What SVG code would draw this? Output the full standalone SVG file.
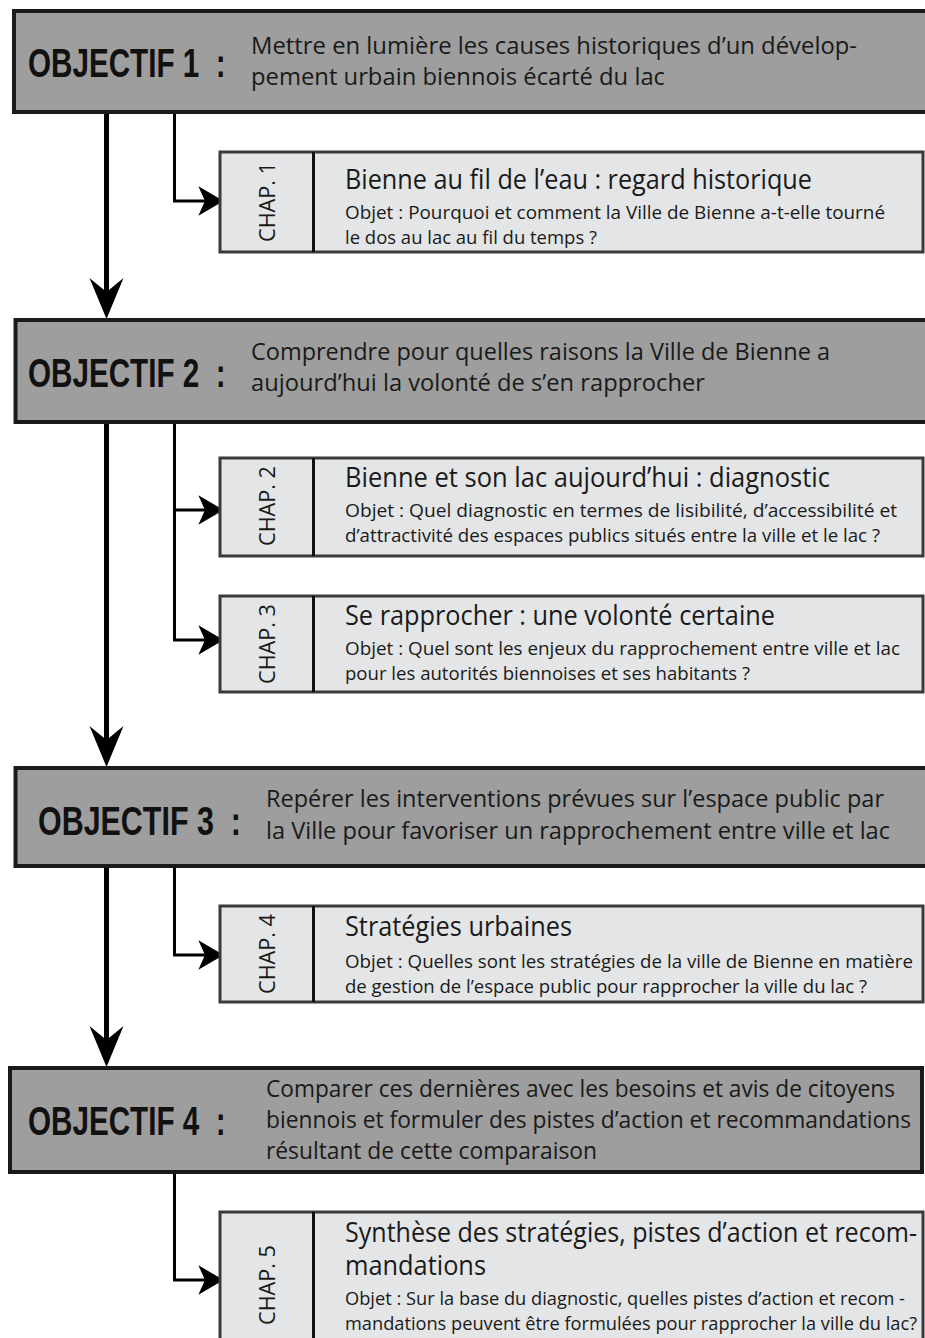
<svg xmlns="http://www.w3.org/2000/svg" width="925" height="1338" viewBox="0 0 925 1338">
<style>
.obj{fill:#9d9e9d;stroke:#1a1a1a;stroke-width:4}
.chap{fill:#e3e5e6;stroke:#3a3a3a;stroke-width:3}
.div{stroke:#111;stroke-width:3}
.lab{font-family:"Liberation Sans",Arial,sans-serif;font-weight:bold;font-size:40px;fill:#111}
.desc{font-family:"Open Sans","Noto Sans",sans-serif;font-size:24px;fill:#1a1a1a}
.ct{font-family:"Open Sans","Noto Sans",sans-serif;font-size:27px;fill:#1a1a1a}
.co{font-family:"Open Sans","Noto Sans",sans-serif;font-size:17.5px;fill:#1a1a1a}
.cn{font-family:"Open Sans","Noto Sans",sans-serif;font-size:22px;fill:#1a1a1a}
.main{stroke:#000;stroke-width:5;fill:none}
.br{stroke:#000;stroke-width:3;fill:none}
</style>
<defs>
<marker id="big" markerUnits="userSpaceOnUse" markerWidth="60" markerHeight="60" viewBox="-20 -20 60 40" refX="0" refY="0" orient="auto" overflow="visible">
<path d="M27,0 L-14,-17 L0,0 L-14,17 Z" fill="#000"/>
</marker>
<marker id="small" markerUnits="userSpaceOnUse" markerWidth="40" markerHeight="40" viewBox="-10 -15 30 30" refX="0" refY="0" orient="auto" overflow="visible">
<path d="M14,0 L-5,-11 L0,0 L-5,11 Z" fill="#000"/>
</marker>
</defs>

<g id="connectors">
<line class="main" x1="106.5" y1="112" x2="106.5" y2="292" marker-end="url(#big)"/>
<line class="main" x1="106.5" y1="422" x2="106.5" y2="740" marker-end="url(#big)"/>
<line class="main" x1="106.5" y1="866" x2="106.5" y2="1040" marker-end="url(#big)"/>
<polyline class="br" points="174.5,112 174.5,201 205,201" marker-end="url(#small)"/>
<polyline class="br" points="174.5,422 174.5,640 205,640" marker-end="url(#small)"/>
<line class="br" x1="174.5" y1="510" x2="205" y2="510" marker-end="url(#small)"/>
<polyline class="br" points="174.5,866 174.5,955 205,955" marker-end="url(#small)"/>
<polyline class="br" points="174.5,1172 174.5,1280 205,1280" marker-end="url(#small)"/>
</g>

<g id="objectif1">
<rect class="obj" x="14" y="11" width="930" height="101"/>
<text class="lab" transform="translate(28,77) scale(0.74,1)" textLength="267" lengthAdjust="spacingAndGlyphs">OBJECTIF 1&#160;&#160;:</text>
<text class="desc" x="251" y="54" textLength="606" lengthAdjust="spacingAndGlyphs">Mettre en lumière les causes historiques d’un dévelop-</text>
<text class="desc" x="251" y="85" textLength="414" lengthAdjust="spacingAndGlyphs">pement urbain biennois écarté du lac</text>
</g>

<g id="chap1">
<rect class="chap" x="220" y="152" width="703" height="100"/>
<line class="div" x1="313.5" y1="152" x2="313.5" y2="252"/>
<text class="cn" transform="translate(275,242) rotate(-90)" textLength="80" lengthAdjust="spacingAndGlyphs">CHAP. 1</text>
<text class="ct" x="345" y="189" textLength="467" lengthAdjust="spacingAndGlyphs">Bienne au fil de l’eau : regard historique</text>
<text class="co" x="345" y="219" textLength="540" lengthAdjust="spacingAndGlyphs">Objet :  Pourquoi et comment la Ville de Bienne a-t-elle tourné</text>
<text class="co" x="345" y="244" textLength="252" lengthAdjust="spacingAndGlyphs">le dos au lac au fil du temps ?</text>
</g>

<g id="objectif2">
<rect class="obj" x="15.5" y="320" width="930" height="102"/>
<text class="lab" transform="translate(28,387) scale(0.74,1)" textLength="267" lengthAdjust="spacingAndGlyphs">OBJECTIF 2&#160;&#160;:</text>
<text class="desc" x="251" y="360" textLength="579" lengthAdjust="spacingAndGlyphs">Comprendre pour quelles raisons la Ville de Bienne a</text>
<text class="desc" x="251" y="391" textLength="454" lengthAdjust="spacingAndGlyphs">aujourd’hui la volonté de s’en rapprocher</text>
</g>

<g id="chap2">
<rect class="chap" x="220" y="458" width="703" height="98"/>
<line class="div" x1="313.5" y1="458" x2="313.5" y2="556"/>
<text class="cn" transform="translate(275,546) rotate(-90)" textLength="80" lengthAdjust="spacingAndGlyphs">CHAP. 2</text>
<text class="ct" x="345" y="487" textLength="485" lengthAdjust="spacingAndGlyphs">Bienne et son lac aujourd’hui : diagnostic</text>
<text class="co" x="345" y="517" textLength="552" lengthAdjust="spacingAndGlyphs">Objet :  Quel diagnostic en termes de lisibilité,  d’accessibilité et</text>
<text class="co" x="345" y="542" textLength="535" lengthAdjust="spacingAndGlyphs">d’attractivité des espaces publics situés entre la ville et le lac ?</text>
</g>

<g id="chap3">
<rect class="chap" x="220" y="596" width="703" height="96"/>
<line class="div" x1="313.5" y1="596" x2="313.5" y2="692"/>
<text class="cn" transform="translate(275,684) rotate(-90)" textLength="80" lengthAdjust="spacingAndGlyphs">CHAP. 3</text>
<text class="ct" x="345" y="625" textLength="430" lengthAdjust="spacingAndGlyphs">Se rapprocher : une volonté certaine</text>
<text class="co" x="345" y="655" textLength="555" lengthAdjust="spacingAndGlyphs">Objet :  Quel sont les enjeux du rapprochement entre ville et lac</text>
<text class="co" x="345" y="680" textLength="405" lengthAdjust="spacingAndGlyphs">pour les autorités biennoises et ses habitants ?</text>
</g>

<g id="objectif3">
<rect class="obj" x="15.5" y="768" width="930" height="98"/>
<text class="lab" transform="translate(38,835) scale(0.76,1)" textLength="267" lengthAdjust="spacingAndGlyphs">OBJECTIF 3&#160;&#160;:</text>
<text class="desc" x="266" y="807" textLength="618" lengthAdjust="spacingAndGlyphs">Repérer les interventions prévues sur l’espace public par</text>
<text class="desc" x="266" y="839" textLength="624" lengthAdjust="spacingAndGlyphs">la Ville pour favoriser un rapprochement entre ville et lac</text>
</g>

<g id="chap4">
<rect class="chap" x="220" y="906" width="703" height="96"/>
<line class="div" x1="313.5" y1="906" x2="313.5" y2="1002"/>
<text class="cn" transform="translate(275,994) rotate(-90)" textLength="80" lengthAdjust="spacingAndGlyphs">CHAP. 4</text>
<text class="ct" x="345" y="936" textLength="227" lengthAdjust="spacingAndGlyphs">Stratégies urbaines</text>
<text class="co" x="345" y="968" textLength="568" lengthAdjust="spacingAndGlyphs">Objet :  Quelles sont les stratégies de la ville de Bienne en matière</text>
<text class="co" x="345" y="993" textLength="522" lengthAdjust="spacingAndGlyphs">de gestion de l’espace public pour rapprocher la ville du lac ?</text>
</g>

<g id="objectif4">
<rect class="obj" x="10" y="1068" width="912" height="104"/>
<text class="lab" transform="translate(28,1135) scale(0.74,1)" textLength="267" lengthAdjust="spacingAndGlyphs">OBJECTIF 4&#160;&#160;:</text>
<text class="desc" x="266" y="1097" textLength="629" lengthAdjust="spacingAndGlyphs">Comparer ces dernières avec les besoins et avis de citoyens</text>
<text class="desc" x="266" y="1128" textLength="645" lengthAdjust="spacingAndGlyphs">biennois et formuler des pistes d’action et recommandations</text>
<text class="desc" x="266" y="1159" textLength="331" lengthAdjust="spacingAndGlyphs">résultant de cette comparaison</text>
</g>

<g id="chap5">
<rect class="chap" x="220" y="1212" width="703" height="140"/>
<line class="div" x1="313.5" y1="1212" x2="313.5" y2="1345"/>
<text class="cn" transform="translate(275,1325) rotate(-90)" textLength="80" lengthAdjust="spacingAndGlyphs">CHAP. 5</text>
<text class="ct" x="345" y="1242" textLength="572" lengthAdjust="spacingAndGlyphs">Synthèse des stratégies, pistes d’action et recom-</text>
<text class="ct" x="345" y="1275" textLength="141" lengthAdjust="spacingAndGlyphs">mandations</text>
<text class="co" x="345" y="1305" textLength="560" lengthAdjust="spacingAndGlyphs">Objet :  Sur la base du diagnostic, quelles pistes d’action et recom -</text>
<text class="co" x="345" y="1330" textLength="572" lengthAdjust="spacingAndGlyphs">mandations peuvent être formulées pour rapprocher la ville du lac?</text>
</g>
</svg>
